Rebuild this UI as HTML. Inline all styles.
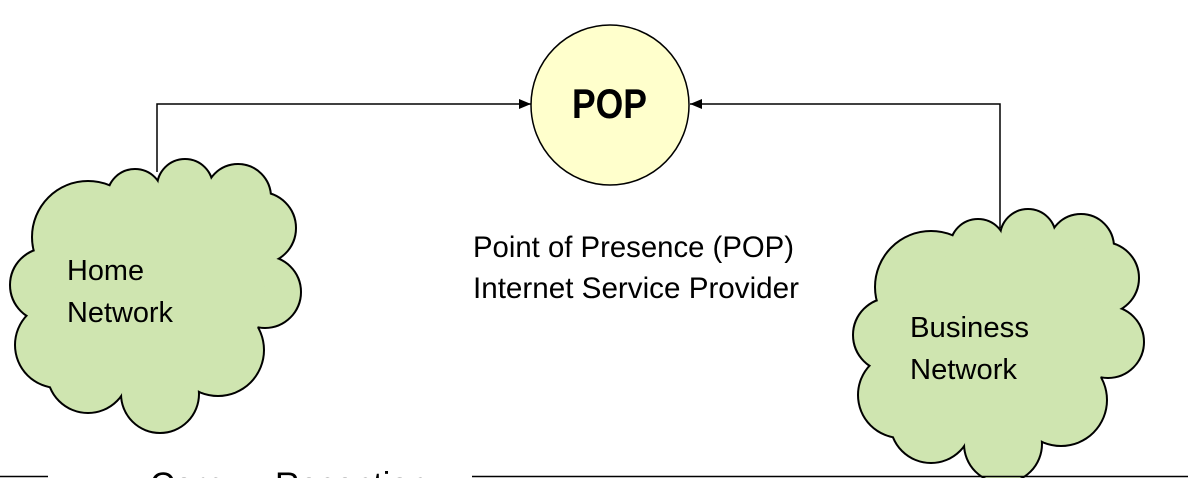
<!DOCTYPE html>
<html><head><meta charset="utf-8"><style>
html,body{margin:0;padding:0;background:#fff;width:1188px;height:478px;overflow:hidden}
svg{display:block}
text{font-family:"Liberation Sans",Arial,sans-serif;fill:#000}
</style></head><body>
<svg width="1188" height="478" viewBox="0 0 1188 478" xmlns="http://www.w3.org/2000/svg">
<defs>
  <g id="bumps">
    <circle cx="135" cy="197" r="27"/>
    <circle cx="185" cy="187" r="27"/>
    <circle cx="238" cy="197" r="32"/>
    <circle cx="260" cy="228" r="35"/>
    <circle cx="265" cy="292" r="35"/>
    <circle cx="218" cy="350" r="45"/>
    <circle cx="160" cy="394" r="38"/>
    <circle cx="88" cy="372" r="40"/>
    <circle cx="58" cy="345" r="42"/>
    <circle cx="47" cy="285" r="36"/>
    <circle cx="88" cy="237" r="55"/>
    <ellipse cx="160" cy="290" rx="105" ry="100"/>
  </g>
  <g id="cloud">
    <use href="#bumps" fill="#000" stroke="#000" stroke-width="4"/>
    <use href="#bumps" fill="#cfe5b0"/>
  </g>
  <marker id="ah" viewBox="0 0 12 12" refX="12" refY="6" markerWidth="12" markerHeight="12" markerUnits="userSpaceOnUse" orient="auto">
    <path d="M0,1 L12,6 L0,11 z" fill="#000"/>
  </marker>
  <clipPath id="frame"><rect x="0" y="0" width="1188" height="478"/></clipPath>
</defs>

<polyline points="157,172 157,104 531,104" fill="none" stroke="#000" stroke-width="1.5" marker-end="url(#ah)"/>
<polyline points="1000,228 1000,104 690,104" fill="none" stroke="#000" stroke-width="1.5" marker-end="url(#ah)"/>

<ellipse cx="610" cy="105" rx="79" ry="80" fill="#ffffcc" stroke="#000" stroke-width="1.5"/>
<text x="572" y="118" font-size="42" font-weight="bold" textLength="75" lengthAdjust="spacingAndGlyphs">POP</text>

<use href="#cloud"/>
<use href="#cloud" transform="translate(843,50)"/>

<text x="67" y="280" font-size="29" textLength="77" lengthAdjust="spacingAndGlyphs">Home</text>
<text x="67" y="322" font-size="29" textLength="106" lengthAdjust="spacingAndGlyphs">Network</text>
<text x="910" y="337" font-size="29" textLength="119" lengthAdjust="spacingAndGlyphs">Business</text>
<text x="910" y="379" font-size="29" textLength="107" lengthAdjust="spacingAndGlyphs">Network</text>

<text x="473" y="257" font-size="30" textLength="321" lengthAdjust="spacingAndGlyphs">Point of Presence (POP)</text>
<text x="473" y="298" font-size="30" textLength="326" lengthAdjust="spacingAndGlyphs">Internet Service Provider</text>

<line x1="0" y1="476.5" x2="48" y2="476.5" stroke="#000" stroke-width="1.5"/>
<line x1="472" y1="476.5" x2="1188" y2="476.5" stroke="#000" stroke-width="1.5"/>
<g clip-path="url(#frame)">
<text x="150" y="496" font-size="34">Corp.</text>
<text x="275" y="496" font-size="34">Reception</text>
</g>
</svg>
</body></html>
